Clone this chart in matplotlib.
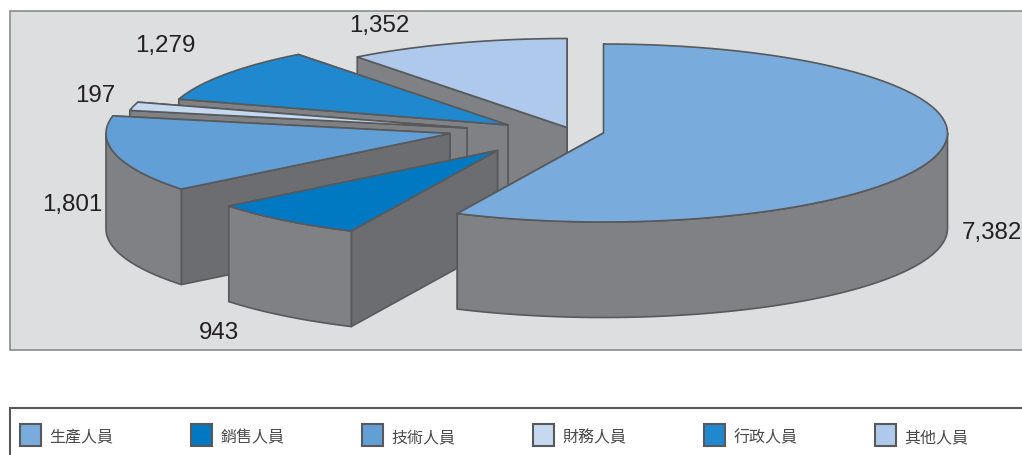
import numpy as np
import matplotlib
matplotlib.use('Agg')
import matplotlib.pyplot as plt
from matplotlib.patches import Polygon, Rectangle

labels = ['生產人員', '銷售人員', '技術人員', '財務人員', '行政人員', '其他人員']
values = [7382, 943, 1801, 197, 1279, 1352]
value_text = ['7,382', '943', '1,801', '197', '1,279', '1,352']
colors = ['#79ACDD', '#0079C2', '#629FD6', '#C5D9F1', '#1F88CE', '#AEC9EB']

# layout of the fake 3d pie, pixels
apex_x = [603.5, 497.5, 450, 467, 508, 567]
apex_y = [134, 151.5, 134.5, 129, 126, 128.5]
label_x = [992, 218.5, 72, 95, 165, 379]
label_y = [239, 339, 211, 102, 52, 32]
face_colors = ['#808184', '#6C6D70', '#6C6D70', '#808184', '#808184', '#808184']
rx, ry, depth = 344, 89, 95.5

side = '#808184'
line = '#58595B'
lw = 1.2

fig = plt.figure(figsize=(10.22, 4.56), dpi=100)
ax = fig.add_axes([0, 0, 1, 1])
ax.set_xlim(0, 1022)
ax.set_ylim(456, 0)
ax.axis('off')

ax.add_patch(Rectangle((10, 11.5), 1030, 339, fc='#DDDEE0', ec='#8A8B8D', lw=1.2))
ax.add_patch(Rectangle((10, 409), 1030, 60, fc='white', ec=line, lw=1.5))


def rim(cx, cy, a0, a1):
    # angles clockwise from 12 o'clock
    t = np.radians(np.linspace(a0, a1, 80))
    return np.column_stack([cx + rx * np.sin(t), cy - ry * np.cos(t)])


def draw(pts, fc, z):
    ax.add_patch(Polygon(pts, closed=True, fc=fc, ec=line, lw=lw, joinstyle='round', zorder=z))


edges = np.concatenate([[0], np.cumsum(values)]) / sum(values) * 360
down = np.array([0, depth])

for i, v in reversed(list(enumerate(values))):
    z = 10 - i
    cx, cy = apex_x[i], apex_y[i]
    a0, a1 = edges[i], edges[i + 1]
    apex = np.array([[cx, cy]])
    arc = rim(cx, cy, a0, a1)

    # radial faces, the far one ends up under the top
    for p in (arc[-1], arc[0]):
        q = np.array([apex[0], p, p + down, apex[0] + down])
        draw(q, face_colors[i], z)

    # outer wall only where the rim looks at the viewer
    lo, hi = max(a0, 90), min(a1, 270)
    if lo < hi:
        w = rim(cx, cy, lo, hi)
        draw(np.vstack([w, (w + down)[::-1]]), side, z)

    draw(np.vstack([apex, arc]), colors[i], z)

    ax.text(label_x[i], label_y[i], value_text[i], family='Liberation Sans', fontsize=17.4,
            color='#231F20', ha='center', va='baseline', zorder=20)

# legend
for i, name in enumerate(labels):
    x = 20 + 171 * i
    ax.add_patch(Rectangle((x, 425), 21, 22, fc=colors[i], ec=line, lw=1.5, zorder=20))
    ax.text(x + 29.5, 442, name, family=['Noto Sans CJK TC', 'DejaVu Sans'], fontsize=11.5,
            color='#4A4A4C', ha='left', va='baseline', zorder=20)

fig.savefig('out.png', dpi=100)
